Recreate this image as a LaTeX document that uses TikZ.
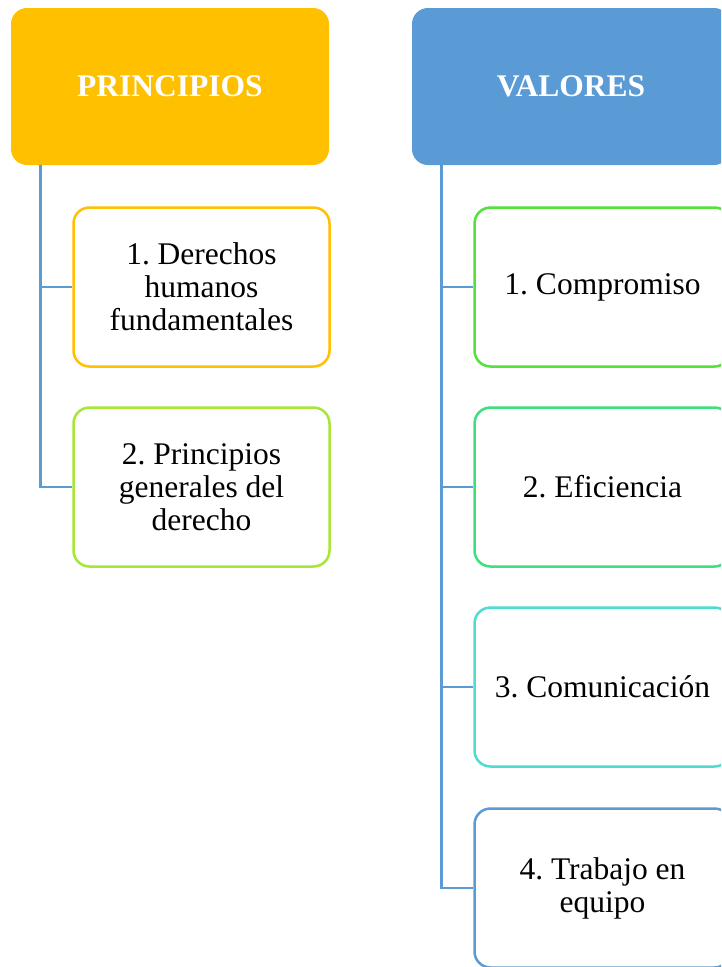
\documentclass[tikz,border=0pt]{standalone}
\usepackage{fontspec}
\setmainfont{Liberation Serif}
\frenchspacing
\definecolor{gold}{HTML}{FFC000}
\definecolor{blueacc}{HTML}{5B9BD5}
\definecolor{limec}{HTML}{A6E635}
\definecolor{greenc}{HTML}{52E23A}
\definecolor{mintc}{HTML}{3DE07E}
\definecolor{turqc}{HTML}{4FDBD2}
\tikzset{
  header/.style={rounded corners=16pt, minimum width=318pt, minimum height=157pt, inner sep=0pt,
    text=white, font=\fontsize{31.5}{33}\selectfont\bfseries\frenchspacing},
  itembox/.style={draw=#1, line width=2.5pt, rounded corners=16pt, fill=white,
    minimum width=256pt, minimum height=159pt, inner sep=0pt, align=center,
    font=\fontsize{31.5}{33}\selectfont\frenchspacing},
  conn/.style={draw=blueacc, line width=2.8pt},
}
\begin{document}
\begin{tikzpicture}[x=1pt,y=-1pt]
\useasboundingbox (0,0) rectangle (721,967);
\begin{scope}
\clip (0,0) rectangle (721,967);
% headers
\node[header, fill=gold] (hp) at (170,86.5) {PRINCIPIOS};
\node[header, fill=blueacc] (hv) at (571,86.5) {VALORES};
% left items
\node[itembox=gold] (p1) at (201.5,287) {\raisebox{0pt}[0pt][0pt]{}1. Derechos\\humanos\\fundamentales};
\node[itembox=limec] (p2) at (201.5,487) {2. Principios\\generales del\\derecho};
% right items
\node[itembox=greenc] (v1) at (602.5,287) {\rule{0pt}{0pt}1. Compromiso};
\node[itembox=mintc] (v2) at (602.5,487) {2. Eficiencia};
\node[itembox=turqc] (v3) at (602.5,687) {3. Comunicación};
\node[itembox=blueacc] (v4) at (602.5,888) {4. Trabajo en\\equipo};
% connectors
\coordinate (lp) at ([xshift=30pt]hp.south west);
\coordinate (lv) at ([xshift=30pt]hv.south west);
\draw[conn] (lp) |- (p1.west);
\draw[conn] (lp) |- (p2.west);
\draw[conn] (lv) |- (v1.west);
\draw[conn] (lv) |- (v2.west);
\draw[conn] (lv) |- (v3.west);
\draw[conn] (lv) |- (v4.west);
\end{scope}
\end{tikzpicture}
\end{document}
